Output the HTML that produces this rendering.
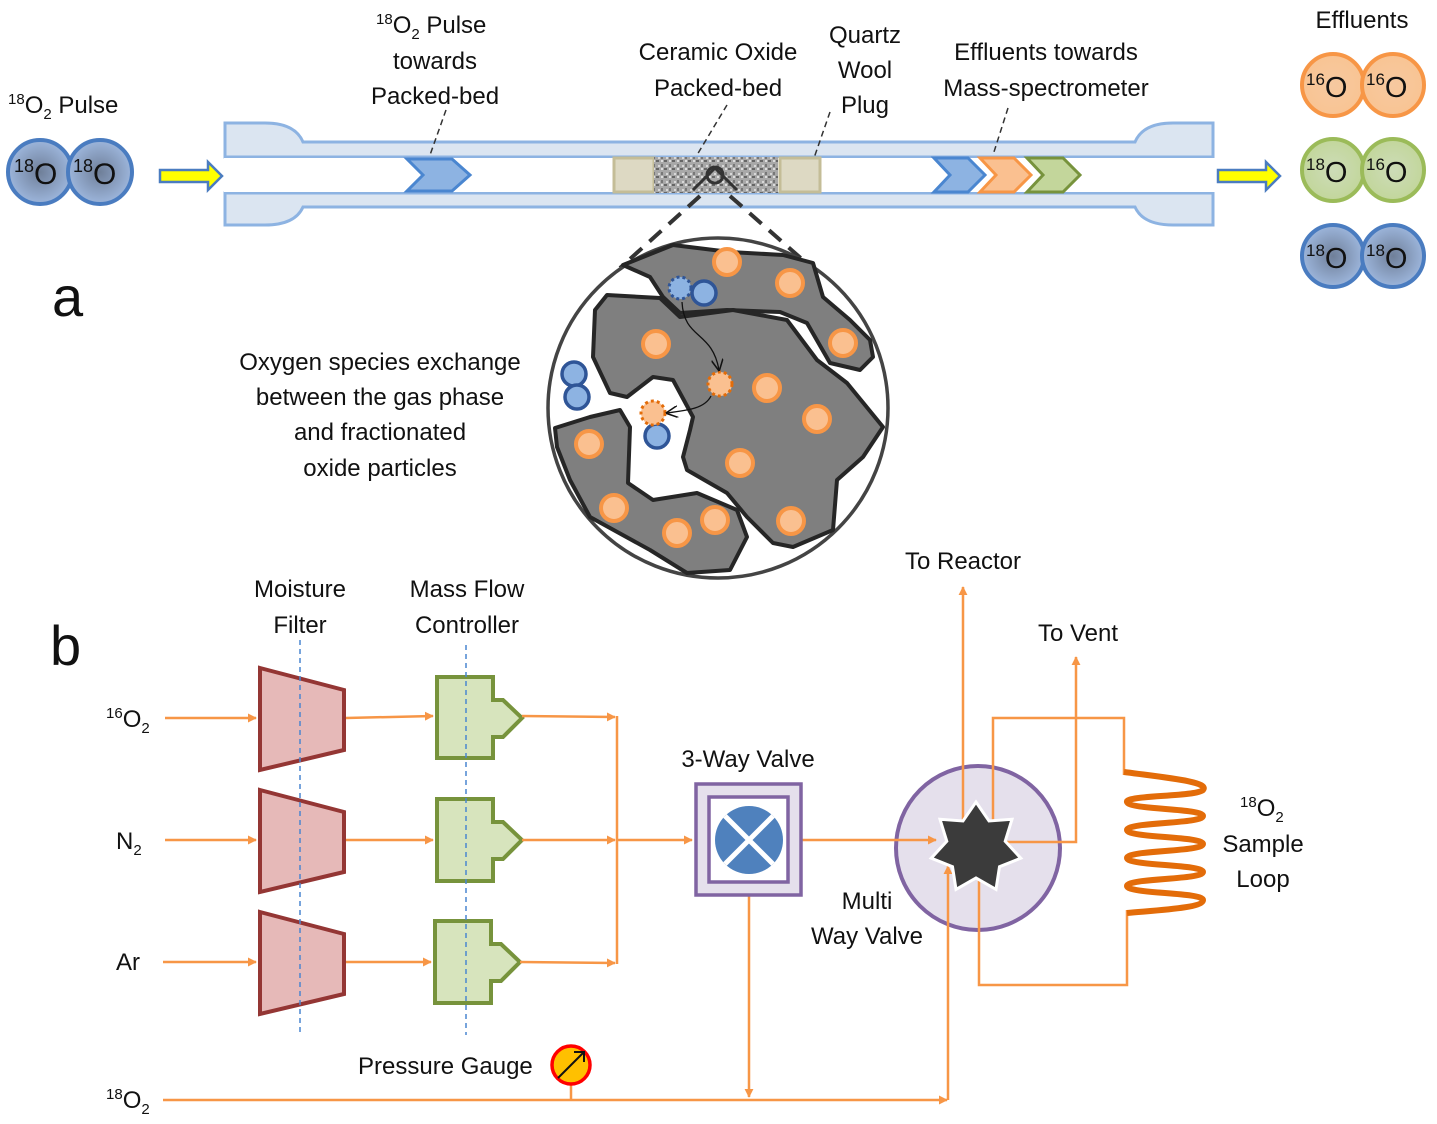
<!DOCTYPE html>
<html><head><meta charset="utf-8"><style>
html,body{margin:0;padding:0;background:#fff}
svg{display:block}
text{font-family:"Liberation Sans",sans-serif;fill:#111}
</style></head><body>
<svg width="1437" height="1124" viewBox="0 0 1437 1124" xmlns="http://www.w3.org/2000/svg">
<defs>
<radialGradient id="bm" cx="50%" cy="50%" r="50%"><stop offset="0" stop-color="#6f7f99"/><stop offset="1" stop-color="#9db6dc"/></radialGradient>
<radialGradient id="om" cx="50%" cy="50%" r="50%"><stop offset="0" stop-color="#f6c9a0"/><stop offset="1" stop-color="#f9c493"/></radialGradient>
<radialGradient id="gm" cx="50%" cy="50%" r="50%"><stop offset="0" stop-color="#cddcb8"/><stop offset="1" stop-color="#c2d69b"/></radialGradient>
<pattern id="noise" width="8" height="8" patternUnits="userSpaceOnUse"><rect width="8" height="8" fill="#a8a8a8"/><rect x="0" y="0" width="3" height="2" fill="#666"/><rect x="5" y="4" width="2" height="3" fill="#777"/><rect x="2" y="5" width="2" height="2" fill="#d8d8d8"/><rect x="5" y="0" width="2" height="2" fill="#ddd"/></pattern>
<marker id="ar" viewBox="0 0 10 10" refX="9" refY="5" markerWidth="9" markerHeight="9" markerUnits="userSpaceOnUse" orient="auto"><path d="M0,0L10,5L0,10z" fill="#f79646"/></marker>
<marker id="ka" viewBox="0 0 10 10" refX="9" refY="5" markerWidth="12" markerHeight="12" markerUnits="userSpaceOnUse" orient="auto"><path d="M0,0L10,5L0,10" fill="none" stroke="#111" stroke-width="1.3"/></marker>
</defs>

<!-- Tube -->
<path d="M225,123 L265,123 Q295,123 303,142 L1135,142 Q1143,123 1173,123 L1213,123 L1213,157 L225,157 Z" fill="#dbe5f1" stroke="#8db3e2" stroke-width="3"/>
<path d="M225,225 L265,225 Q295,225 303,207 L1135,207 Q1143,225 1173,225 L1213,225 L1213,193 L225,193 Z" fill="#dbe5f1" stroke="#8db3e2" stroke-width="3"/>
<rect x="224" y="158" width="991" height="34" fill="#fff"/>

<!-- yellow arrows -->
<path d="M160,170 L208,170 L208,162 L222,176 L208,190 L208,182 L160,182 Z" fill="#ffff00" stroke="#4a7cc0" stroke-width="2.5"/>
<path d="M1218,170 L1266,170 L1266,162 L1280,176 L1266,190 L1266,182 L1218,182 Z" fill="#ffff00" stroke="#4a7cc0" stroke-width="2.5"/>

<!-- chevrons -->
<path d="M407,159 L452,159 L470,175 L452,191 L407,191 L423,175 Z" fill="#8db3e2" stroke="#4a86d0" stroke-width="3"/>
<path d="M934,158 L968,158 L985,175 L968,192 L934,192 L950,175 Z" fill="#8db3e2" stroke="#4a86d0" stroke-width="3"/>
<path d="M980,158 L1014,158 L1031,175 L1014,192 L980,192 L996,175 Z" fill="#fac090" stroke="#f79646" stroke-width="3"/>
<path d="M1027,158 L1063,158 L1080,175 L1063,192 L1027,192 L1043,175 Z" fill="#c3d69b" stroke="#77933c" stroke-width="3"/>

<!-- packed bed -->
<rect x="614" y="158" width="40" height="34" fill="#ddd9c3" stroke="#c4bd97" stroke-width="3"/>
<rect x="654" y="157" width="124" height="36" fill="url(#noise)"/>
<rect x="780" y="158" width="40" height="34" fill="#ddd9c3" stroke="#c4bd97" stroke-width="3"/>
<circle cx="715" cy="175" r="8" fill="none" stroke="#333" stroke-width="3"/>
<path d="M693,190 L715,168 L737,190" fill="none" stroke="#333" stroke-width="3"/>
<path d="M700,196 L620,268 M730,196 L812,268" stroke="#333" stroke-width="4" stroke-dasharray="16,10"/>

<!-- dashed leaders -->
<path d="M446,110 L430,155 M727,105 L697,155 M830,112 L814,158 M1008,108 L993,155" stroke="#333" stroke-width="1.5" stroke-dasharray="6,4"/>

<!-- molecules left -->
<g stroke="#4a7cc0" stroke-width="4" fill="url(#bm)">
<circle cx="40" cy="172" r="32"/><circle cx="100" cy="172" r="32"/>
</g>
<g font-size="30"><text x="14" y="184"><tspan font-size="18" dy="-12">18</tspan><tspan dy="12">O</tspan></text>
<text x="73" y="184"><tspan font-size="18" dy="-12">18</tspan><tspan dy="12">O</tspan></text></g>

<!-- molecules right -->
<g stroke="#f79646" stroke-width="4" fill="url(#om)"><circle cx="1333" cy="85" r="31"/><circle cx="1393" cy="85" r="31"/></g>
<g stroke="#9bbb59" stroke-width="4" fill="url(#gm)"><circle cx="1333" cy="170" r="31"/><circle cx="1393" cy="170" r="31"/></g>
<g stroke="#4a7cc0" stroke-width="4" fill="url(#bm)"><circle cx="1333" cy="256" r="31"/><circle cx="1393" cy="256" r="31"/></g>
<g font-size="29">
<text x="1306" y="97"><tspan font-size="17" dy="-12">16</tspan><tspan dy="12">O</tspan></text>
<text x="1366" y="97"><tspan font-size="17" dy="-12">16</tspan><tspan dy="12">O</tspan></text>
<text x="1306" y="182"><tspan font-size="17" dy="-12">18</tspan><tspan dy="12">O</tspan></text>
<text x="1366" y="182"><tspan font-size="17" dy="-12">16</tspan><tspan dy="12">O</tspan></text>
<text x="1306" y="268"><tspan font-size="17" dy="-12">18</tspan><tspan dy="12">O</tspan></text>
<text x="1366" y="268"><tspan font-size="17" dy="-12">18</tspan><tspan dy="12">O</tspan></text>
</g>

<!-- top labels -->
<g font-size="24">
<text x="8" y="113"><tspan font-size="15" dy="-9">18</tspan><tspan dy="9">O</tspan><tspan font-size="15" dy="6">2</tspan><tspan dy="-6"> Pulse</tspan></text>
<text x="376" y="33"><tspan font-size="15" dy="-9">18</tspan><tspan dy="9">O</tspan><tspan font-size="15" dy="6">2</tspan><tspan dy="-6"> Pulse</tspan></text>
<text x="435" y="69" text-anchor="middle">towards</text>
<text x="435" y="104" text-anchor="middle">Packed-bed</text>
<text x="718" y="60" text-anchor="middle">Ceramic Oxide</text>
<text x="718" y="96" text-anchor="middle">Packed-bed</text>
<text x="865" y="43" text-anchor="middle">Quartz</text>
<text x="865" y="78" text-anchor="middle">Wool</text>
<text x="865" y="113" text-anchor="middle">Plug</text>
<text x="1046" y="60" text-anchor="middle">Effluents towards</text>
<text x="1046" y="96" text-anchor="middle">Mass-spectrometer</text>
<text x="1362" y="28" text-anchor="middle">Effluents</text>
<text x="380" y="370" text-anchor="middle">Oxygen species exchange</text>
<text x="380" y="405" text-anchor="middle">between the gas phase</text>
<text x="380" y="440" text-anchor="middle">and fractionated</text>
<text x="380" y="476" text-anchor="middle">oxide particles</text>
</g>
<text x="52" y="316" font-size="56">a</text>
<text x="50" y="665" font-size="56">b</text>

<!-- zoom circle -->
<circle cx="718" cy="408" r="170" fill="#fff" stroke="#444" stroke-width="3.5"/>
<g fill="#7f7f7f" stroke="#262626" stroke-width="4" stroke-linejoin="round">
<path d="M623,265 L673,245 L730,252 L783,255 L813,263 L823,297 L850,320 L870,340 L873,357 L860,370 L830,363 L807,323 L780,312 L727,310 L680,313 L663,297 L650,277 Z"/>
<path d="M607,295 L660,298 L680,317 L733,310 L787,320 L817,360 L847,383 L883,427 L863,457 L837,480 L833,530 L793,547 L773,543 L747,517 L727,493 L687,470 L683,457 L690,430 L693,417 L673,380 L653,377 L627,397 L610,393 L593,357 L595,310 Z"/>
<path d="M555,428 L590,417 L620,410 L630,427 L628,483 L653,500 L697,493 L737,510 L747,537 L730,570 L687,573 L650,550 L590,517 L570,480 L557,447 Z"/>
</g>
<g fill="#fac090" stroke="#f79646" stroke-width="4">
<circle cx="727" cy="262" r="13"/><circle cx="790" cy="283" r="13"/><circle cx="843" cy="343" r="13"/>
<circle cx="656" cy="344" r="13"/><circle cx="767" cy="388" r="13"/><circle cx="817" cy="419" r="13"/>
<circle cx="740" cy="463" r="13"/><circle cx="589" cy="444" r="13"/><circle cx="614" cy="508" r="13"/>
<circle cx="677" cy="533" r="13"/><circle cx="715" cy="520" r="13"/><circle cx="791" cy="521" r="13"/>
</g>
<g fill="#8db3e2" stroke="#2f5597" stroke-width="3.5">
<circle cx="704" cy="293" r="12"/><circle cx="574" cy="374" r="12"/><circle cx="577" cy="397" r="12"/><circle cx="657" cy="436" r="12"/>
</g>
<circle cx="680" cy="288" r="11" fill="#8db3e2" stroke="#2f5597" stroke-width="3" stroke-dasharray="3,3"/>
<circle cx="720" cy="384" r="12" fill="#fac090" stroke="#e36c09" stroke-width="3" stroke-dasharray="3,3"/>
<circle cx="653" cy="413" r="12" fill="#fac090" stroke="#e36c09" stroke-width="3" stroke-dasharray="3,3"/>
<path d="M682,302 C684,340 712,330 719,370" fill="none" stroke="#111" stroke-width="1.3" marker-end="url(#ka)"/>
<path d="M711,396 C705,408 690,410 667,413" fill="none" stroke="#111" stroke-width="1.3" marker-end="url(#ka)"/>

<!-- Section b -->
<g fill="#e6b9b8" stroke="#943634" stroke-width="4">
<path d="M260,668 L344,690 L344,750 L260,770 Z"/>
<path d="M260,790 L344,812 L344,872 L260,892 Z"/>
<path d="M260,912 L344,934 L344,994 L260,1014 Z"/>
</g>
<g fill="#d7e4bd" stroke="#77933c" stroke-width="4">
<path d="M437,677 L493,677 L493,700 L503,700 L522,718 L503,737 L493,737 L493,758 L437,758 Z"/>
<path d="M437,799 L493,799 L493,822 L503,822 L522,840 L503,859 L493,859 L493,881 L437,881 Z"/>
<path d="M435,921 L491,921 L491,944 L501,944 L520,962 L501,981 L491,981 L491,1003 L435,1003 Z"/>
</g>
<path d="M300,640 L300,1035 M466,645 L466,1035" stroke="#4a86d0" stroke-width="1.5" stroke-dasharray="5,4"/>

<!-- multi way valve circle (below lines) -->
<circle cx="978" cy="848" r="82" fill="#e5e0ec" stroke="#8064a2" stroke-width="4"/>

<g stroke="#f79646" stroke-width="2.5" fill="none">
<path d="M165,718 L256,718" marker-end="url(#ar)"/>
<path d="M165,840 L256,840" marker-end="url(#ar)"/>
<path d="M163,962 L256,962" marker-end="url(#ar)"/>
<path d="M346,718 L433,716" marker-end="url(#ar)"/>
<path d="M346,840 L433,840" marker-end="url(#ar)"/>
<path d="M346,962 L431,962" marker-end="url(#ar)"/>
<path d="M522,716 L615,717" marker-end="url(#ar)"/>
<path d="M522,840 L615,840" marker-end="url(#ar)"/>
<path d="M520,962 L615,963" marker-end="url(#ar)"/>
<path d="M617,716 L617,964"/>
<path d="M617,840 L692,840" marker-end="url(#ar)"/>
<path d="M802,840 L936,840" marker-end="url(#ar)"/>
<path d="M749,896 L749,1097" marker-end="url(#ar)"/>
<path d="M163,1100 L947,1100" marker-end="url(#ar)"/>
<path d="M571,1084 L571,1100"/>
<path d="M948,1100 L948,866" marker-end="url(#ar)"/>
<path d="M963,825 L963,587" marker-end="url(#ar)"/>
<path d="M1002,842 L1076,842 L1076,657" marker-end="url(#ar)"/>
<path d="M993,825 L993,718 L1124,718 L1124,775"/>
<path d="M979,876 L979,985 L1127,985 L1127,910"/>
</g>

<!-- 3 way valve -->
<rect x="696" y="784" width="105" height="111" fill="#e5e0ec" stroke="#8064a2" stroke-width="3.5"/>
<rect x="709" y="797" width="79" height="85" fill="#fff" stroke="#8064a2" stroke-width="3.5"/>
<circle cx="749" cy="840" r="34" fill="#4f81bd"/>
<path d="M725,816 L773,864 M773,816 L725,864" stroke="#fff" stroke-width="5"/>

<!-- star -->
<path d="M976,802 L989,821 L1012,819.3 L1005.2,841.3 L1020.8,858.2 L999.5,866.7 L996,889.4 L976,878 L956,889.4 L952.5,866.7 L931.2,858.2 L946.8,841.3 L940,819.3 L963,821 Z" fill="#3b3b3b" stroke="#fff" stroke-width="3" stroke-linejoin="miter"/>

<!-- coil -->
<path d="M1124,772 C1170,778 1210,782 1203,790 C1196,797 1125,795 1127,802 C1129,810 1203,808 1203,816 C1203,824 1127,822 1127,830 C1127,838 1203,836 1203,844 C1203,852 1127,850 1127,858 C1127,866 1203,864 1203,872 C1203,880 1127,878 1127,886 C1127,894 1203,892 1203,900 C1203,908 1160,910 1127,913" fill="none" stroke="#e36c09" stroke-width="6"/>

<!-- pressure gauge -->
<circle cx="571" cy="1065" r="19" fill="#ffc000" stroke="#ff0000" stroke-width="3.5"/>
<path d="M558,1078 L584,1052 M574,1052 L584,1052 L584,1062" fill="none" stroke="#111" stroke-width="2"/>

<g font-size="24">
<text x="300" y="597" text-anchor="middle">Moisture</text>
<text x="300" y="633" text-anchor="middle">Filter</text>
<text x="467" y="597" text-anchor="middle">Mass Flow</text>
<text x="467" y="633" text-anchor="middle">Controller</text>
<text x="748" y="767" text-anchor="middle">3-Way Valve</text>
<text x="963" y="569" text-anchor="middle">To Reactor</text>
<text x="1078" y="641" text-anchor="middle">To Vent</text>
<text x="867" y="909" text-anchor="middle">Multi</text>
<text x="867" y="944" text-anchor="middle">Way Valve</text>
<text x="1240" y="816"><tspan font-size="15" dy="-9">18</tspan><tspan dy="9">O</tspan><tspan font-size="15" dy="6">2</tspan></text>
<text x="1263" y="852" text-anchor="middle">Sample</text>
<text x="1263" y="887" text-anchor="middle">Loop</text>
<text x="358" y="1074">Pressure Gauge</text>
<text x="106" y="727"><tspan font-size="15" dy="-9">16</tspan><tspan dy="9">O</tspan><tspan font-size="15" dy="6">2</tspan></text>
<text x="116" y="849">N<tspan font-size="15" dy="6">2</tspan></text>
<text x="116" y="970">Ar</text>
<text x="106" y="1108"><tspan font-size="15" dy="-9">18</tspan><tspan dy="9">O</tspan><tspan font-size="15" dy="6">2</tspan></text>
</g>
</svg>
</body></html>
